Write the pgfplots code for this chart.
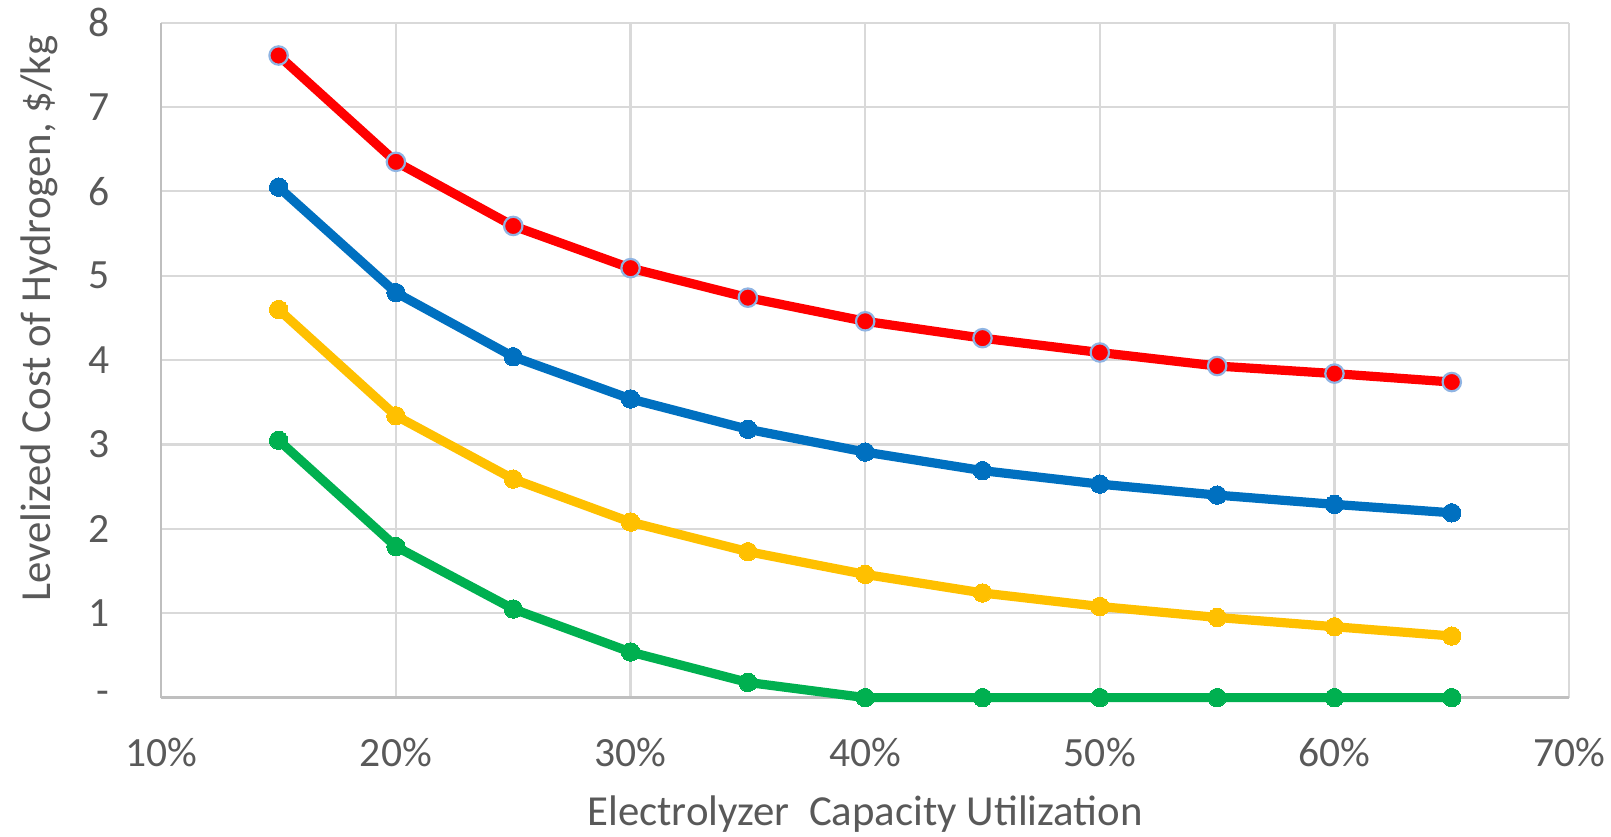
\documentclass[border=0pt]{standalone}
\usepackage{fontspec}
\setmainfont{Carlito}
\usepackage{pgfplots}
\pgfplotsset{compat=1.18}
\definecolor{cred}{HTML}{FF0000}
\definecolor{cblue}{HTML}{0070C0}
\definecolor{cyellow}{HTML}{FFC000}
\definecolor{cgreen}{HTML}{00B050}
\definecolor{gridc}{HTML}{D9D9D9}
\definecolor{axc}{HTML}{BFBFBF}
\definecolor{txt}{HTML}{595959}
\definecolor{mout}{HTML}{8FB4E3}
\begin{document}
\begin{tikzpicture}
\path[use as bounding box] (-80.65bp,-69.7bp) rectangle (724.85bp,348.8bp);
\begin{axis}[
  at={(0,0)}, anchor=south west,
  scale only axis, width=703.9bp, height=337.5bp,
  xmin=10, xmax=70, ymin=0, ymax=8,
  xtick={10,20,30,40,50,60,70},
  xticklabels={10\%,20\%,30\%,40\%,50\%,60\%,70\%},
  ytick={0,1,2,3,4,5,6,7,8},
  yticklabels={-,1,2,3,4,5,6,7,8},
  axis lines=left,
  axis line style={-, draw=axc, line width=1.2bp},
  grid=major,
  major grid style={draw=gridc, line width=1.1bp},
  major tick length=0pt,
  tick style={draw=none},
  clip=false,
  every tick label/.append style={font=\fontsize{20.8bp}{25bp}\selectfont, text=txt},
  xticklabel style={anchor=base, yshift=-34.5bp, inner sep=0pt},
  yticklabel style={anchor=east, xshift=-25.6bp, inner sep=0pt},
  xlabel={Electrolyzer\ \ Capacity Utilization},
  ylabel={Levelized Cost of Hydrogen, \$/kg},
  label style={font=\fontsize{21.4bp}{26bp}\selectfont, text=txt},
  xlabel style={at={(axis description cs:0.5,0)}, anchor=base, yshift=-63.8bp, inner sep=0pt},
  ylabel style={at={(axis description cs:-0.0869,0.5615)}, anchor=center, rotate=0, inner sep=0pt},
]
\addplot[cgreen, line width=4.6bp, mark=*, mark size=4.6bp, mark options={fill=cgreen, draw=cgreen, line width=0pt}]
  coordinates {(15,3.05) (20,1.79) (25,1.05) (30,0.54) (35,0.18) (40,0) (45,0) (50,0) (55,0) (60,0) (65,0)};
\addplot[cyellow, line width=4.6bp, mark=*, mark size=4.6bp, mark options={fill=cyellow, draw=cyellow, line width=0pt}]
  coordinates {(15,4.60) (20,3.34) (25,2.59) (30,2.08) (35,1.73) (40,1.46) (45,1.24) (50,1.08) (55,0.95) (60,0.84) (65,0.73)};
\addplot[cblue, line width=4.6bp, mark=*, mark size=4.6bp, mark options={fill=cblue, draw=cblue, line width=0pt}]
  coordinates {(15,6.05) (20,4.80) (25,4.04) (30,3.54) (35,3.18) (40,2.91) (45,2.69) (50,2.53) (55,2.40) (60,2.29) (65,2.19)};
\addplot[cred, line width=4.6bp, mark=*, mark size=4.6bp, mark options={fill=cred, draw=mout, line width=1.1bp}]
  coordinates {(15,7.61) (20,6.35) (25,5.59) (30,5.09) (35,4.74) (40,4.46) (45,4.26) (50,4.09) (55,3.93) (60,3.84) (65,3.74)};
\end{axis}
\end{tikzpicture}
\end{document}
